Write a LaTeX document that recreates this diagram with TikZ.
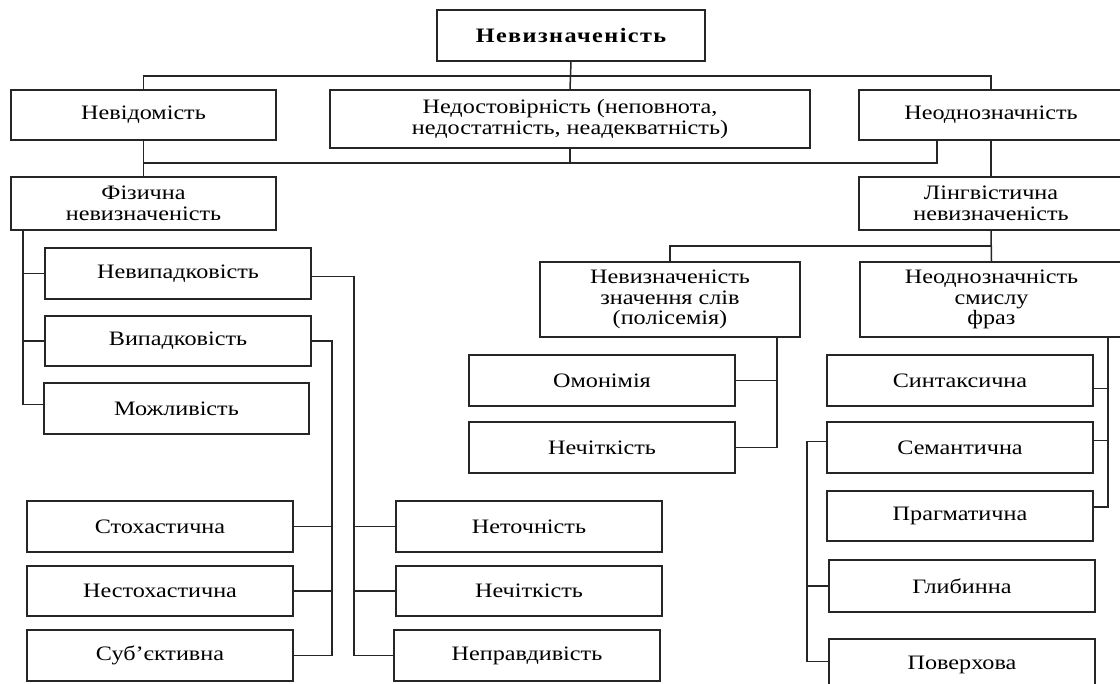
\documentclass[tikz,border=0pt]{standalone}
\usepackage{fontspec}
\setmainfont{Liberation Serif}[FakeStretch=1.18]
\usetikzlibrary{calc}
\tikzset{
  box/.style={draw=black!85, line width=1.5pt, rectangle, inner sep=0pt, align=center,
    font=\fontsize{20.5}{20.5}\selectfont, text=black},
  conn/.style={draw=black!85, line width=1.5pt}
}
\newcommand{\bx}[6]{%
  \node[box, minimum width={#4-#2}, minimum height={#5-#3}] (#1) at ({(#2+#4)/2},{(#3+#5)/2}) {#6};}
\begin{document}
\begin{tikzpicture}[x=1pt,y=-1pt]
\fill[white] (0,0) rectangle (1120,684);
\useasboundingbox (0,0) rectangle (1120,684);
% boxes
\bx{top}{437}{10}{705}{61}{\bfseries\addfontfeature{LetterSpace=7}Невизначеність}
\bx{nev}{11}{90}{276}{140}{Невідомість}
\bx{nedost}{330}{90}{810}{148}{Недостовірність (неповнота,\\недостатність, неадекватність)}
\bx{neodn}{859}{90}{1123}{140}{Неоднозначність}
\bx{fiz}{11}{177}{276}{230}{Фізична\\невизначеність}
\bx{ling}{859}{177}{1123}{230}{Лінгвістична\\невизначеність}
\bx{nevyp}{45}{248}{311}{299}{Невипадковість}
\bx{vyp}{45}{316}{311}{366}{Випадковість}
\bx{mozh}{44}{383}{309}{434}{Можливість}
\bx{stoh}{27}{501}{293}{552}{Стохастична}
\bx{nestoh}{27}{566}{293}{616}{Нестохастична}
\bx{sub}{27}{630}{293}{681}{Суб’єктивна}
\bx{netoch}{396}{501}{662}{552}{Неточність}
\bx{nechitA}{396}{566}{662}{616}{Нечіткість}
\bx{neprav}{394}{630}{660}{681}{Неправдивість}
\bx{nezn}{540}{262}{800}{337}{Невизначеність\\значення слів\\(полісемія)}
\bx{neodsm}{860}{262}{1123}{337}{Неоднозначність\\смислу\\фраз}
\bx{omon}{469}{355}{735}{406}{Омонімія}
\bx{nechitB}{469}{422}{735}{473}{Нечіткість}
\bx{synt}{827}{355}{1093}{406}{Синтаксична}
\bx{sem}{827}{422}{1093}{473}{Семантична}
\bx{prag}{827}{491}{1093}{541}{Прагматична}
\bx{glyb}{829}{560}{1095}{612}{Глибинна}
\bx{pover}{829}{639}{1095}{690}{Поверхова}
% helper coordinates
\coordinate (busA) at (0,76);
\coordinate (busB) at (0,163);
\coordinate (busC) at (0,246);
\coordinate (neodnR) at (937,0);
\coordinate (fizV) at (23,0);
\coordinate (rv) at (354,0);
\coordinate (lv) at (332,0);
\coordinate (nv) at (777,0);
\coordinate (sv) at (1108,0);
\coordinate (gv) at (807,0);
\coordinate (mozhW) at ([yshift=4pt]mozh.west);
\coordinate (nevypE) at ([yshift=-3pt]nevyp.east);
\coordinate (syntE) at ([yshift=-8pt]synt.east);
\coordinate (semE) at ([yshift=7pt]sem.east);
\coordinate (pragE) at ([yshift=9pt]prag.east);
\coordinate (semW) at ([yshift=6pt]sem.west);
\coordinate (poverW) at ([yshift=3pt]pover.west);
% top level
\draw[conn] (top.south) -- (nedost.north);
\draw[conn] (nev.north) |- (busA -| neodn.north) -- (neodn.north);
% second bus
\draw[conn] (nev.south) -- (fiz.north);
\draw[conn] (nedost.south) -- (nedost.south |- busB);
\draw[conn] (nev.south |- busB) -| (neodnR |- neodn.south);
\draw[conn] (neodn.south) -- (ling.north);
% physical
\draw[conn] (fizV |- fiz.south) |- (mozhW);
\draw[conn] (nevyp.west) -- (fizV |- nevyp.west);
\draw[conn] (vyp.west) -- (fizV |- vyp.west);
\draw[conn] (nevypE) -| (rv |- neprav.west) -- (neprav.west);
\draw[conn] (netoch.west) -- (rv |- netoch.west);
\draw[conn] (nechitA.west) -- (rv |- nechitA.west);
\draw[conn] (vyp.east) -| (lv |- sub.east) -- (sub.east);
\draw[conn] (stoh.east) -- (lv |- stoh.east);
\draw[conn] (nestoh.east) -- (lv |- nestoh.east);
% linguistic
\draw[conn] (ling.south) -- (neodsm.north);
\draw[conn] (ling.south |- busC) -| (nezn.north);
\draw[conn] (nv |- nezn.south) |- (nechitB.east);
\draw[conn] (omon.east) -- (nv |- omon.east);
\draw[conn] (sv |- neodsm.south) |- (pragE);
\draw[conn] (syntE) -- (sv |- syntE);
\draw[conn] (semE) -- (sv |- semE);
\draw[conn] (semW) -| (gv |- poverW) -- (poverW);
\draw[conn] (glyb.west) -- (gv |- glyb.west);
\end{tikzpicture}
\end{document}
